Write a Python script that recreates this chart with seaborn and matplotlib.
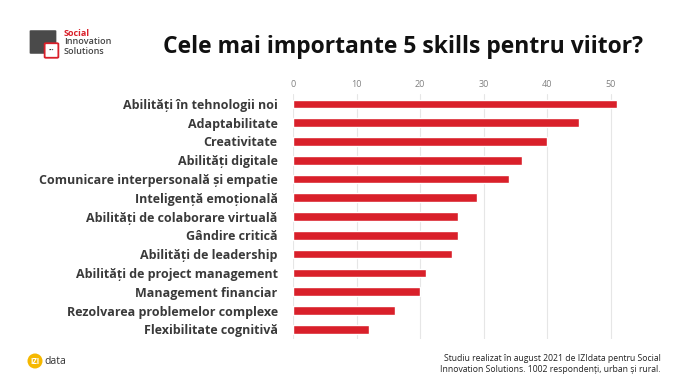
import matplotlib
matplotlib.use("Agg")
import matplotlib.pyplot as plt
import matplotlib.patches as mpatches
import seaborn as sns
import pandas as pd

# -----------------------------
# Data
# -----------------------------
skills = [
    "Abilități în tehnologii noi",
    "Adaptabilitate",
    "Creativitate",
    "Abilități digitale",
    "Comunicare interpersonală și empatie",
    "Inteligență emoțională",
    "Abilități de colaborare virtuală",
    "Gândire critică",
    "Abilități de leadership",
    "Abilități de project management",
    "Management financiar",
    "Rezolvarea problemelor complexe",
    "Flexibilitate cognitivă",
]
scores = [51, 45, 40, 36, 34, 29, 26, 26, 25, 21, 20, 16, 12]
x_ticks = [0, 10, 20, 30, 40, 50]

TITLE = "Cele mai importante 5 skills pentru viitor?"
FOOTNOTE = ("Studiu realizat în august 2021 de IZIdata pentru Social\n"
            "Innovation Solutions. 1002 respondenți, urban și rural.")

RED = "#d9202a"

df = pd.DataFrame({"skill": skills, "score": scores})

sns.set_theme(style="white")
plt.rcParams["font.family"] = ["Open Sans", "DejaVu Sans"]

fig = plt.figure(figsize=(6.82, 3.84), dpi=100)
ax = fig.add_axes([0.4296, 0.118, 0.494, 0.636])

sns.barplot(data=df, x="score", y="skill", color=RED, width=0.46,
            saturation=1, ax=ax)

ax.set_xlim(0, 53)
ax.set_ylim(len(skills) - 0.5, -0.5)
ax.set_xticks(x_ticks)
ax.xaxis.tick_top()
ax.tick_params(axis="x", length=0, labelsize=6.5, labelcolor="#808080", pad=4)
ax.tick_params(axis="y", length=0, pad=11)
for lbl in ax.get_yticklabels():
    lbl.set_fontweight("bold")
    lbl.set_fontsize(9)
    lbl.set_color("#3a3a3a")
ax.set_xlabel("")
ax.set_ylabel("")
ax.grid(axis="x", color="#e6e6e6", linewidth=0.8)
ax.set_axisbelow(True)
for s in ax.spines.values():
    s.set_visible(False)

# title
fig.text(0.943, 0.877, TITLE, ha="right", va="center", fontsize=16.5,
         fontweight="bold", color="#111111")

# logo top-left
fig.patches.append(mpatches.FancyBboxPatch((31 / 682, 1 - 53 / 384), 24 / 682, 22 / 384,
                   boxstyle="round,pad=0.002", transform=fig.transFigure,
                   facecolor="#4a4a4a", edgecolor="none"))
fig.patches.append(mpatches.FancyBboxPatch((46 / 682, 1 - 57 / 384), 11 / 682, 13 / 384,
                   boxstyle="round,pad=0.002", transform=fig.transFigure,
                   facecolor="white", edgecolor=RED, linewidth=1.3))
fig.text(51.5 / 682, 1 - 50 / 384, "•••", fontsize=3.5, color="#333333",
         ha="center", va="center")
fig.text(64 / 682, 1 - 33 / 384, "Social", fontsize=6.5, fontweight="bold", color=RED,
         va="center")
fig.text(64 / 682, 1 - 42 / 384, "Innovation", fontsize=6.5, fontweight="semibold",
         color="#444444", va="center")
fig.text(64 / 682, 1 - 51 / 384, "Solutions", fontsize=6.5, fontweight="semibold",
         color="#444444", va="center")

# logo bottom-left
fig.patches.append(mpatches.Ellipse((35 / 682, 1 - 361 / 384), 15 / 682, 15 / 384,
                   transform=fig.transFigure, facecolor="#f5b800", edgecolor="none"))
fig.text(35 / 682, 1 - 361 / 384, "IZI", fontsize=5.5, color="white", fontweight="bold",
         ha="center", va="center")
fig.text(44 / 682, 1 - 361 / 384, "data", fontsize=7.5, color="#333333", va="center")

# footnote
fig.text(661 / 682, 1 - 364 / 384, FOOTNOTE, ha="right", va="center", fontsize=6.2,
         color="#222222", linespacing=1.35)

plt.savefig("out.png", dpi=100)
plt.close()
